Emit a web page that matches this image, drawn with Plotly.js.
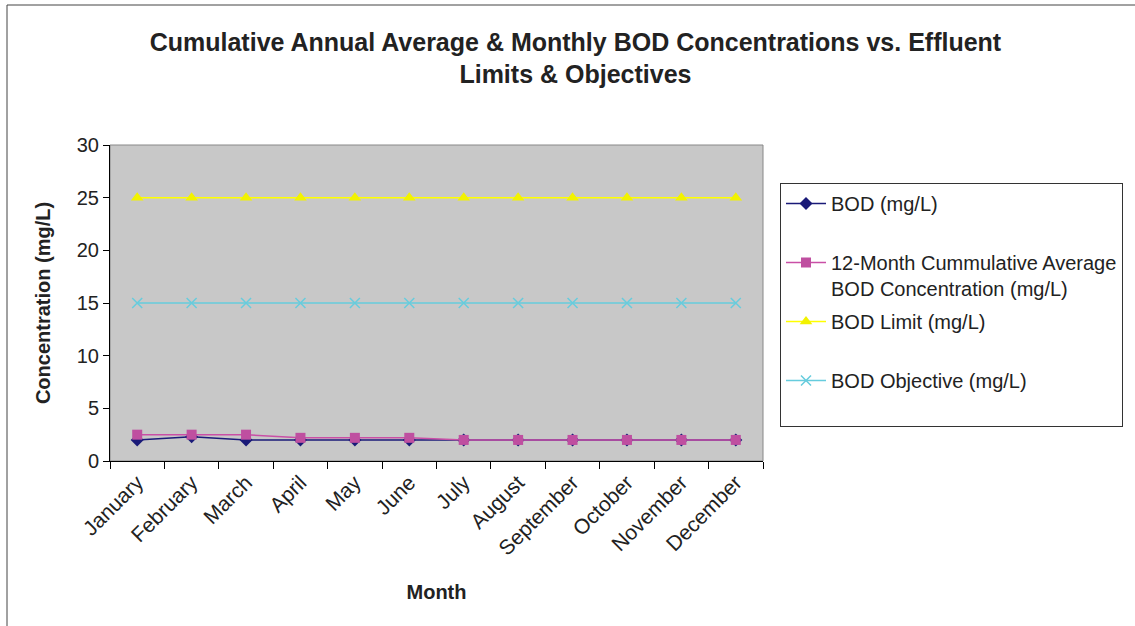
<!DOCTYPE html>
<html><head><meta charset="utf-8">
<script src="https://cdn.plot.ly/plotly-3.0.1.min.js"></script>
<style>html,body{margin:0;padding:0;background:#fff;}#chart{width:1135px;height:626px;}</style>
</head><body><div id="chart"></div>
<script>
const months = ["January","February","March","April","May","June","July","August","September","October","November","December"];
const bod = [2.0, 2.3, 2.0, 2.0, 2.0, 2.0, 2.0, 2.0, 2.0, 2.0, 2.0, 2.0];
const cumAvg = [2.5, 2.5, 2.5, 2.2, 2.2, 2.2, 2.0, 2.0, 2.0, 2.0, 2.0, 2.0];
const bodLimit = [25, 25, 25, 25, 25, 25, 25, 25, 25, 25, 25, 25];
const bodObjective = [15, 15, 15, 15, 15, 15, 15, 15, 15, 15, 15, 15];
const yTicks = [0, 5, 10, 15, 20, 25, 30];
const seriesNames = ["BOD (mg/L)", "12-Month Cummulative Average<br>BOD Concentration (mg/L)", "BOD Limit (mg/L)", "BOD Objective (mg/L)"];

const traces = [
  {x: months, y: bod, name: seriesNames[0] + "<br> ", mode: "lines+markers", legendgroup: "a",
   line: {color: "#1a1a78", width: 1.5}, marker: {symbol: "diamond", size: 10, color: "#1a1a78"}},
  {x: months, y: cumAvg, name: seriesNames[1], mode: "lines+markers", legendgroup: "b",
   line: {color: "#c94fa6", width: 1.5}, marker: {symbol: "square", size: 10, color: "#bf4fa0"}},
  {x: months, y: bodLimit, name: seriesNames[2] + "<br> ", mode: "lines+markers", legendgroup: "c",
   line: {color: "#ffff00", width: 1.5}, marker: {symbol: "triangle-up", size: 11, color: "#f2f200"}},
  {x: months, y: bodObjective, name: seriesNames[3] + "<br> ", mode: "lines+markers", legendgroup: "d",
   line: {color: "#66ccdd", width: 1.5}, marker: {symbol: "x-thin", size: 10, color: "#66ccdd", line: {color: "#66ccdd", width: 1.5}}}
];

const L = 110, R = 763, T = 145, B = 461;
const pw = R - L, ph = B - T;
const px = v => (v - L) / pw, py = v => (B - v) / ph;

const layout = {
  width: 1135, height: 626,
  margin: {l: L, r: 1135 - R, t: T, b: 626 - B},
  paper_bgcolor: "#ffffff", plot_bgcolor: "#c8c8c8",
  font: {family: "Liberation Sans, Arial, sans-serif", color: "#222", size: 18},
  title: {text: "<b>Cumulative Annual Average & Monthly BOD Concentrations vs. Effluent<br>Limits & Objectives</b>",
    font: {size: 25, color: "#222"}, xref: "container", x: 0.507, xanchor: "center", yref: "container", y: 0.919, yanchor: "top"},
  xaxis: {type: "category", range: [-0.5, 11.5], tickson: "boundaries", tickangle: -45, ticks: "outside", ticklen: 7, tickcolor: "#000",
    showline: true, linecolor: "#000", linewidth: 1, showgrid: false, zeroline: false,
    tickfont: {size: 21, color: "#222"},
    title: {text: "<b>Month</b>", font: {size: 20, color: "#222"}, standoff: 26}},
  yaxis: {range: [0, 30], tickvals: yTicks, ticks: "outside", ticklen: 6, tickcolor: "#000",
    showline: true, linecolor: "#000", linewidth: 1, showgrid: false, zeroline: false,
    tickfont: {size: 20, color: "#222"},
    title: {text: "<b>Concentration (mg/L)</b>", font: {size: 20, color: "#222"}, standoff: 20}},
  legend: {x: px(780), y: py(183), xanchor: "left", yanchor: "top", bordercolor: "#333", borderwidth: 1,
    bgcolor: "#fff", font: {size: 20, color: "#222"}, tracegroupgap: 4, valign: "top", itemwidth: 40},
  shapes: [
    {type: "rect", xref: "paper", yref: "paper", x0: px(7), x1: px(1145), y0: py(640), y1: py(5),
     line: {color: "#444", width: 1}, layer: "below"},
    {type: "rect", xref: "paper", yref: "paper", x0: 0, x1: 1, y0: 0, y1: 1,
     line: {color: "#888", width: 1}, layer: "below"}
  ],
  showlegend: true
};

Plotly.newPlot("chart", traces, layout, {displayModeBar: false, staticPlot: true});
</script>
</body></html>
